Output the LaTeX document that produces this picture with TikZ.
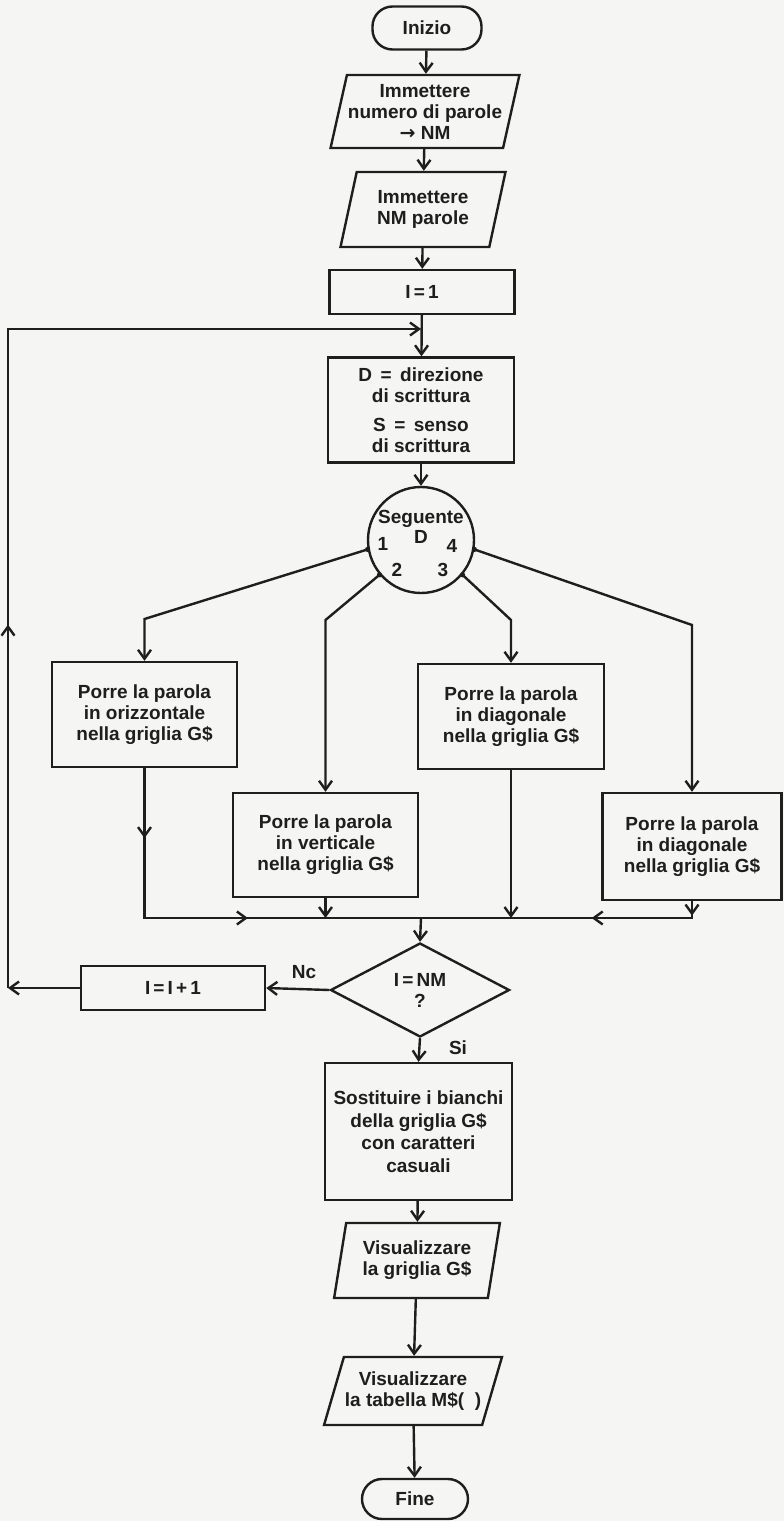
\documentclass[tikz,border=0pt]{standalone}
\usepackage{fontspec}
\setmainfont{Liberation Sans}
\newfontfamily\arrowfont{DejaVu Sans}
\usetikzlibrary{arrows.meta,shapes.geometric,decorations.markings,calc}
\definecolor{bg}{RGB}{245,245,243}
\definecolor{ink}{RGB}{30,30,30}
\begin{document}
\begin{tikzpicture}[x=1pt,y=-1pt,
  every node/.style={font=\fontsize{19}{21}\selectfont\bfseries, align=center, text=ink},
  flow/.style={line width=2.4pt, draw=ink, line join=miter},
  tip/.style={-{Straight Barb[length=9pt,width=13pt]}},
  midtip/.style={postaction={decorate, decoration={markings, mark=at position #1 with {\arrow{Straight Barb[length=9pt,width=13pt]}}}}},
  term/.style={draw=ink, line width=2.4pt, rectangle, rounded corners=20pt, inner sep=0pt},
  proc/.style={draw=ink, line width=2.4pt, rectangle, inner sep=0pt},
  io/.style={draw=ink, line width=2.4pt, trapezium, trapezium left angle=#1, trapezium right angle={180-#1}, trapezium stretches=true, inner sep=1pt},
  decision/.style={draw=ink, line width=2.4pt, diamond, aspect=2, inner sep=0pt},
  lbl/.style={inner sep=0pt}
]
\fill[bg] (0,0) rectangle (784,1521);
\useasboundingbox (0,0) rectangle (784,1521);

% main column
\node[term, minimum width=109pt, minimum height=43pt] (start) at (427,28) {Inizio};
\node[io=74, minimum width=165pt, minimum height=73pt] (p1) at (425,111.5) {Immettere\\numero di parole\\{\arrowfont\bfseries →} NM};
\node[io=74, minimum width=165pt, minimum height=75pt] (p2) at (423,209.5) {Immettere\\NM parole};
\node[proc, minimum width=185pt, minimum height=44pt] (i1) at (422,292) {I\,=\,1};
\node[proc, minimum width=186pt, minimum height=105pt, font=\fontsize{19}{20.5}\selectfont\bfseries] (dbox) at (421,410) {D \,=\, direzione\\di scrittura\\[9pt]S \,=\, senso\\di scrittura};
\node[draw=ink, line width=2.4pt, circle, minimum size=106pt, inner sep=0pt] (sel) at (421,540) {};
\node[lbl, font=\fontsize{19}{20}\selectfont\bfseries] (selt) at (421,527) {Seguente\\D};
\node[lbl] (n1) at (383,544) {1};
\node[lbl] (n4) at (452,546) {4};
\node[lbl] (n2) at (397,570) {2};
\node[lbl] (n3) at (443,570) {3};

% branch boxes
\node[proc, minimum width=185pt, minimum height=105pt] (b1) at (144.5,714.5) {Porre la parola\\in orizzontale\\nella griglia G\$};
\node[proc, minimum width=185pt, minimum height=104pt] (b2) at (325.5,845) {Porre la parola\\in verticale\\nella griglia G\$};
\node[proc, minimum width=186pt, minimum height=105pt] (b3) at (511,716.5) {Porre la parola\\in diagonale\\nella griglia G\$};
\node[proc, minimum width=179pt, minimum height=107pt] (b4) at (692,846.5) {Porre la parola\\in diagonale\\nella griglia G\$};

% decision and loop
\node[decision, minimum width=179pt, minimum height=94pt] (dia) at (420,990) {I\,=\,NM\\?};
\node[proc, minimum width=184pt, minimum height=44pt] (inc) at (173,988) {I\,=\,I\,+\,1};
\node[lbl] (no) at (304,972) {Nc};
\node[lbl] (si) at (458,1048) {Si};

% final part
\node[proc, minimum width=187pt, minimum height=137pt, font=\fontsize{19}{22.5}\selectfont\bfseries] (sost) at (418.5,1131.5) {Sostituire i bianchi\\della griglia G\$\\con caratteri\\casuali};
\node[io=77, minimum width=166pt, minimum height=75pt] (v1) at (417,1260.5) {Visualizzare\\la griglia G\$};
\node[io=64, minimum width=158pt, minimum height=68pt] (v2) at (413,1391) {Visualizzare\\la tabella M\$(\ \ )};
\node[term, minimum width=106pt, minimum height=40pt] (fine) at (415,1499) {Fine};

% helper coordinates
\coordinate (j1) at (421,329);
\coordinate (k1) at (144.5,619);
\coordinate (k2) at (325.5,620);
\coordinate (k3) at (511,620);
\coordinate (k4) at (692,625);
\coordinate (m) at (421,918);
\coordinate (l1) at (8,988);
\coordinate (l2) at (8,329);

% connectors main column
\draw[flow, tip] (start) -- (p1);
\draw[flow, tip] (p1) -- (p2);
\draw[flow, tip] (p2) -- (i1);
\draw[flow, tip] (i1) -- (dbox);
\draw[flow, tip] (dbox) -- (sel);

% branches
\draw[flow, tip] (sel.190) -- (k1) -- (b1.north);
\draw[flow, tip] (sel.220) -- (k2) -- (b2.north);
\draw[flow, tip] (sel.320) -- (k3) -- (b3.north);
\draw[flow, tip] (sel.350) -- (k4) -- (b4.north);
\fill[ink] (sel.190) circle[radius=2.6pt];
\fill[ink] (sel.220) circle[radius=2.6pt];
\fill[ink] (sel.320) circle[radius=2.6pt];
\fill[ink] (sel.350) circle[radius=2.6pt];

% merge
\draw[flow, midtip=0.164, midtip=0.594] (b1.south) -- (b1.south |- m) -- (m);
\draw[flow, tip] (b2.south) -- (b2.south |- m);
\draw[flow, tip] (b3.south) -- (b3.south |- m);
\draw[flow, midtip=0.05, midtip=0.407] (b4.south) -- (b4.south |- m) -- (m);
\draw[flow, tip] (m) -- (dia.north);

% loop
\draw[flow, tip] (dia.west) -- (inc.east);
\draw[flow, tip] (inc.west) -- (l1);
\draw[flow, tip, midtip=0.339] (l1) -- (l2) -- (j1);

% final
\draw[flow, tip] (dia.south) -- (sost.north);
\draw[flow, tip] (sost) -- (v1);
\draw[flow, tip] (v1) -- (v2);
\draw[flow, tip] (v2) -- (fine);
\end{tikzpicture}
\end{document}
